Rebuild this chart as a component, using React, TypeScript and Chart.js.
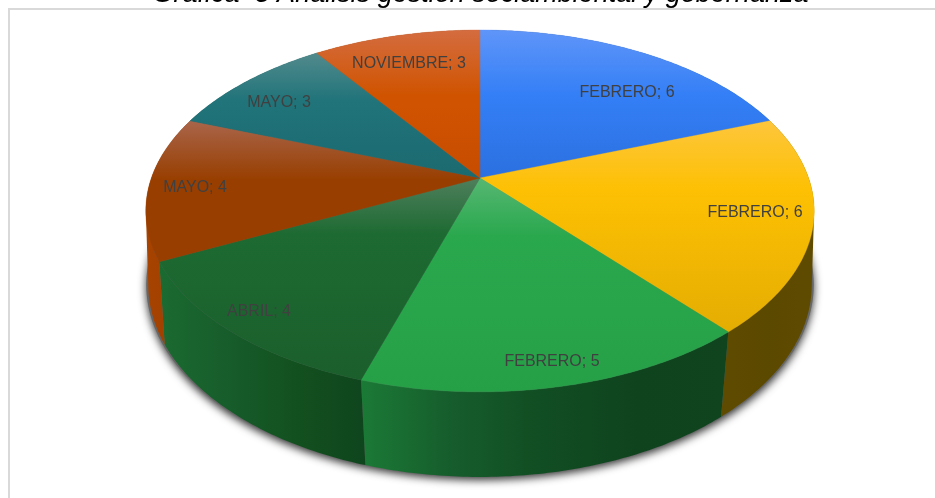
import React, { useEffect, useRef } from "react";
import { Chart, registerables } from "chart.js";

Chart.register(...registerables);

const months = ["FEBRERO", "FEBRERO", "FEBRERO", "ABRIL", "MAYO", "MAYO", "NOVIEMBRE"];
const counts = [6, 6, 5, 4, 4, 3, 3];
const baseColors = ["#347ff6", "#fdc003", "#2aa84e", "#1d6a32", "#983e00", "#20747a", "#d05400"];
const lightColors = ["#5f95f9", "#fdc63c", "#56b772", "#4f7f5c", "#a9654a", "#528a8c", "#d46c40"];
const darkColors = ["#2b70e0", "#e4ad02", "#26a047", "#1b5f2c", "#983e00", "#1b6a70", "#c84c00"];
const baseStop = [0.44, 0.33, 0.27, 0.28, 0.42, 0.38, 0.44];
const sideStops: string[][] = [
  ["#1f4f9a", "#1f4f9a"],
  ["#5f4b00", "#5c4900", "#5f4b00"],
  ["#1b7a36", "#165c2c", "#114d22", "#0f431e", "#0f441e"],
  ["#1b6b31", "#175c2b", "#13501f", "#0f451d"],
  ["#a84300", "#9a3e00"],
  ["#14555a", "#14555a"],
  ["#8f3b00", "#8f3b00"],
];
const labelCenters = [
  [627, 92],
  [755, 212],
  [552, 361],
  [259, 311],
  [195, 187],
  [279, 102],
  [409, 63],
];

const CX = 480;
const topFace = { d: 328.6, b: 178, a: 142.5, c: -0.182 };
const bottomFace = { d: 328, b: 256, a: 149.4, c: -0.15 };

type Face = typeof topFace;
type Pt = [number, number];

const project = (f: Face, t: number): Pt => {
  const u = Math.sin(t);
  const v = -Math.cos(t);
  const w = 1 + f.c * v;
  return [CX + (u * f.d) / w, (f.b + f.a * v) / w];
};

const rim = (f: Face, t0: number, t1: number): Pt[] => {
  const n = Math.max(2, Math.ceil((t1 - t0) * 80));
  const out: Pt[] = [];
  for (let i = 0; i <= n; i++) out.push(project(f, t0 + ((t1 - t0) * i) / n));
  return out;
};

const addPoly = (ctx: CanvasRenderingContext2D, pts: Pt[]) => {
  let area = 0;
  pts.forEach(([x, y], i) => {
    const [nx, ny] = pts[(i + 1) % pts.length];
    area += x * ny - nx * y;
  });
  const ordered = area < 0 ? [...pts].reverse() : pts;
  ordered.forEach(([x, y], i) => (i ? ctx.lineTo(x, y) : ctx.moveTo(x, y)));
  ctx.closePath();
};

const pie3d = {
  id: "pie3d",
  beforeDatasetsDraw(chart: any) {
    const ctx: CanvasRenderingContext2D = chart.ctx;
    const arcs = chart.getDatasetMeta(0).data;
    const angles = arcs.map((a: any) => [a.startAngle + Math.PI / 2, a.endAngle + Math.PI / 2]);

    ctx.save();
    // frame of the embedded picture
    ctx.fillStyle = "#d9d9d9";
    ctx.fillRect(8, 8, 927, 2);
    ctx.fillRect(8, 8, 2, 490);

    // cast shadow under the bottom rim
    ctx.save();
    ctx.shadowColor = "rgba(0,0,0,0.8)";
    ctx.shadowBlur = 8;
    ctx.shadowOffsetY = 3;
    ctx.fillStyle = "#666";
    ctx.beginPath();
    addPoly(ctx, rim(bottomFace, 0, Math.PI * 2).map(([x, y]) => [CX + (x - CX) * 1.006, y] as Pt));
    ctx.fill();
    ctx.restore();

    // outer wall: ruled strips along the rim, filled as one path
    angles.forEach(([t0, t1]: number[], i: number) => {
      const a = rim(topFace, t0, t1);
      const b = rim(bottomFace, t0, t1);
      const xs = [...a, ...b].map((p) => p[0]);
      const g = ctx.createLinearGradient(Math.min(...xs), 0, Math.max(...xs), 0);
      sideStops[i].forEach((c, k) => g.addColorStop(k / (sideStops[i].length - 1), c));
      ctx.fillStyle = g;
      ctx.beginPath();
      for (let k = 0; k < a.length - 1; k++) addPoly(ctx, [a[k], a[k + 1], b[k + 1], b[k]]);
      ctx.fill();
    });

    // top face
    angles.forEach(([t0, t1]: number[], i: number) => {
      const centre: Pt = [CX, topFace.b];
      const poly: Pt[] = [centre, ...rim(topFace, t0, t1)];
      const ys = poly.map((p) => p[1]);
      const g = ctx.createLinearGradient(0, Math.min(...ys), 0, Math.max(...ys));
      g.addColorStop(0, lightColors[i]);
      g.addColorStop(baseStop[i], baseColors[i]);
      g.addColorStop(1, darkColors[i]);
      ctx.fillStyle = g;
      ctx.strokeStyle = g;
      ctx.lineWidth = 0.4;
      ctx.beginPath();
      addPoly(ctx, poly);
      ctx.fill();
      ctx.stroke();
    });

    // labels
    ctx.font = "16px 'Liberation Sans'";
    ctx.fillStyle = "#404040";
    ctx.textAlign = "center";
    ctx.textBaseline = "middle";
    months.forEach((m, i) => {
      ctx.fillText(`${m}; ${counts[i]}`, labelCenters[i][0], labelCenters[i][1] + 1);
    });
    ctx.restore();
    return false;
  },
};

export default function App() {
  const ref = useRef<HTMLCanvasElement>(null);
  useEffect(() => {
    document.body.style.margin = "0";
    document.body.style.background = "#fff";
    const chart = new Chart(ref.current!, {
      type: "pie",
      data: {
        labels: months,
        datasets: [{ data: counts, backgroundColor: baseColors, borderWidth: 0 }],
      },
      options: {
        animation: false,
        responsive: false,
        layout: { padding: { left: 26 } },
        plugins: {
          legend: { display: false },
          tooltip: { enabled: false },
          title: {
            display: true,
            text: "Gráfica  3 Análisis gestión sociambiental y gobernanza",
            color: "#000",
            font: { family: "'Liberation Sans'", size: 27, style: "italic", weight: "normal" },
            padding: { top: -22, bottom: 0 },
          },
        },
      },
      plugins: [pie3d],
    } as any);
    return () => chart.destroy();
  }, []);
  return <canvas ref={ref} width={935} height={498} style={{ display: "block" }} />;
}
